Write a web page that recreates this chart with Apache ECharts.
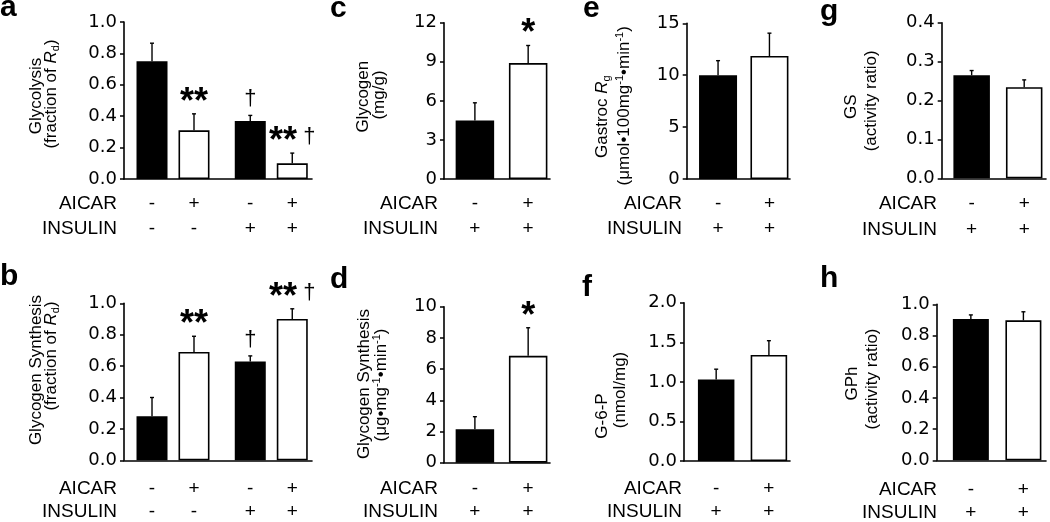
<!DOCTYPE html>
<html><head><meta charset="utf-8">
<script src="https://cdn.jsdelivr.net/npm/echarts@6/dist/echarts.min.js"></script>
<style>html,body{margin:0;padding:0;background:#fff}#c{width:1050px;height:522px}</style>
</head><body><div id="c"></div>
<script>
// ---------------- DATA ----------------
const rowNames = ['AICAR', 'INSULIN'];
const fourAicar = ['-', '+', '-', '+'];
const fourInsulin = ['-', '-', '+', '+'];
const twoAicar = ['-', '+'];
const twoInsulin = ['+', '+'];

const aValues = [0.75, 0.31, 0.37, 0.10];
const aErrors = [0.115, 0.105, 0.035, 0.065];
const aMarks = ['', '**', '†', '**†'];
const aTicks = [0, 0.2, 0.4, 0.6, 0.8, 1.0];

const bValues = [0.28, 0.69, 0.63, 0.90];
const bErrors = [0.12, 0.10, 0.035, 0.065];
const bMarks = ['', '**', '†', '**†'];
const bTicks = [0, 0.2, 0.4, 0.6, 0.8, 1.0];

const cValues = [4.5, 8.9];
const cErrors = [1.35, 1.35];
const cMarks = ['', '*'];
const cTicks = [0, 3, 6, 9, 12];

const dValues = [2.15, 6.85];
const dErrors = [0.8, 1.8];
const dMarks = ['', '*'];
const dTicks = [0, 2, 4, 6, 8, 10];

const eValues = [10.0, 11.85];
const eErrors = [1.4, 2.2];
const eMarks = ['', ''];
const eTicks = [0, 5, 10, 15];

const fValues = [1.03, 1.34];
const fErrors = [0.13, 0.18];
const fMarks = ['', ''];
const fTicks = [0, 0.5, 1.0, 1.5, 2.0];

const gValues = [0.265, 0.234];
const gErrors = [0.012, 0.019];
const gMarks = ['', ''];
const gTicks = [0, 0.1, 0.2, 0.3, 0.4];

const hValues = [0.905, 0.897];
const hErrors = [0.027, 0.055];
const hMarks = ['', ''];
const hTicks = [0, 0.2, 0.4, 0.6, 0.8, 1.0];

const aTitle = ['Glycolysis', '(fraction of {i|R}{sub|d})'];
const bTitle = ['Glycogen Synthesis', '(fraction of {i|R}{sub|d})'];
const cTitle = ['Glycogen', '(mg/g)'];
const dTitle = ['Glycogen Synthesis', '(μg•mg{sup|-1}•min{sup|-1})'];
const eTitle = ['Gastroc {i|R}{sub|g}', '(μmol•100mg{sup|-1}•min{sup|-1})'];
const fTitle = ['G-6-P', '(nmol/mg)'];
const gTitle = ['GS', '(activity ratio)'];
const hTitle = ['GPh', '(activity ratio)'];

// ---------------- LAYOUT / STYLE ----------------
const FONT = '"Liberation Sans", Arial, Helvetica, sans-serif';
const TICKFONT = '"DejaVu Sans", Verdana, sans-serif';
const GROUP_GAP = 0.34;

const panels = [
  {letter:'a', values:aValues, errors:aErrors, marks:aMarks, ticks:aTicks, aicar:fourAicar, insulin:fourInsulin, title:aTitle, dec:1,
   L:{left:124, top:22, width:188, height:157, xMin:-0.667, xMax:3.81, bw:31, labDist:11.75, labLH:25.5, rowX:117, rowY:[203.5,229], letterXY:[0,8], names:[[36,96],[51,94]]}},
  {letter:'b', values:bValues, errors:bErrors, marks:bMarks, ticks:bTicks, aicar:fourAicar, insulin:fourInsulin, title:bTitle, dec:1,
   L:{left:124, top:303.3, width:188, height:157, xMin:-0.667, xMax:3.81, bw:31, labDist:16.5, labLH:23, rowX:117, rowY:[488.5,511.5], letterXY:[0,277], names:[[36.5,370],[51.5,356]]}},
  {letter:'c', values:cValues, errors:cErrors, marks:cMarks, ticks:cTicks, aicar:twoAicar, insulin:twoInsulin, title:cTitle, dec:0,
   L:{left:444, top:22.7, width:106, height:156.3, xMin:-0.58, xMax:1.41, bw:38.5, labDist:11.75, labLH:25.5, rowX:438, rowY:[203.5,229], letterXY:[330,9], names:[[363.3,96.7],[379,95]]}},
  {letter:'d', values:dValues, errors:dErrors, marks:dMarks, ticks:dTicks, aicar:twoAicar, insulin:twoInsulin, title:dTitle, dec:0,
   L:{left:444, top:306.7, width:106, height:156, xMin:-0.58, xMax:1.41, bw:38.5, labDist:14.3, labLH:23, rowX:438, rowY:[488.5,511.5], letterXY:[330,280], names:[[364,384],[381,385]]}},
  {letter:'e', values:eValues, errors:eErrors, marks:eMarks, ticks:eTicks, aicar:twoAicar, insulin:twoInsulin, title:eTitle, dec:0,
   L:{left:686.7, top:23.3, width:103.3, height:155.7, xMin:-0.61, xMax:1.40, bw:38, labDist:11.75, labLH:25.5, rowX:682, rowY:[203.5,229], letterXY:[583,9], names:[[602.5,116.7],[624,105.8]]}},
  {letter:'f', values:fValues, errors:fErrors, marks:fMarks, ticks:fTicks, aicar:twoAicar, insulin:twoInsulin, title:fTitle, dec:1,
   L:{left:684, top:302.7, width:106, height:158.3, xMin:-0.61, xMax:1.40, bw:36.5, labDist:16, labLH:23, rowX:682, rowY:[488.5,511.5], letterXY:[582,288], names:[[602.5,416],[620.5,390]]}},
  {letter:'g', values:gValues, errors:gErrors, marks:gMarks, ticks:gTicks, aicar:twoAicar, insulin:twoInsulin, title:gTitle, dec:1,
   L:{left:941.7, top:22.7, width:104.3, height:155.6, xMin:-0.57, xMax:1.415, bw:36.5, labDist:13, labLH:25.5, rowX:937, rowY:[204,230], letterXY:[820,12], names:[[851.5,106.7],[871.7,100.8]]}},
  {letter:'h', values:hValues, errors:hErrors, marks:hMarks, ticks:hTicks, aicar:twoAicar, insulin:twoInsulin, title:hTitle, dec:1,
   L:{left:936.7, top:304.3, width:109.3, height:156, xMin:-0.65, xMax:1.43, bw:36, labDist:17.5, labLH:23, rowX:937, rowY:[490,512.5], letterXY:[820,279], names:[[852.5,383.5],[872.3,379]]}}
];

const nameRich = {
  i: {fontFamily: FONT, fontSize: 17, fontStyle: 'italic', fill: '#000'},
  sub: {fontFamily: FONT, fontSize: 11, padding: [9, 0, 0, 0], fill: '#000'},
  sup: {fontFamily: FONT, fontSize: 11, padding: [0, 0, 9, 0], fill: '#000'}
};
const markRich = {
  s: {fontFamily: FONT, fontSize: 36, fontWeight: 'bold', fill: '#000'},
  d: {fontFamily: FONT, fontSize: 22, padding: [0, 0, 10, 0], fill: '#000'}
};

function positions(n) {
  const out = [];
  for (let i = 0; i < n; i++) out.push(i + (n === 4 && i >= 2 ? GROUP_GAP : 0));
  return out;
}
function markText(m) {
  if (!m) return '';
  const stars = m.replace('†', '');
  const dag = m.indexOf('†') >= 0;
  return (stars ? '{s|' + stars + '}' : '') + (dag ? '{d|' + (stars ? ' ' : '') + '†}' : '');
}
function txt(x, y, text, extra) {
  const style = Object.assign({text: text, fill: '#000', font: '19px ' + FONT, fontFamily: FONT, fontSize: 19,
    align: 'left', textAlign: 'left', verticalAlign: 'middle', textVerticalAlign: 'middle'}, extra.style || {});
  const el = {type: 'text', x: x, y: y, style: style, silent: true, z: 10};
  if (extra.rotation) el.rotation = extra.rotation;
  return el;
}

const grids = [], xAxes = [], yAxes = [], series = [], graphics = [];

panels.forEach((p, i) => {
  const L = p.L;
  const pos = positions(p.values.length);
  grids.push({left: L.left, top: L.top, width: L.width, height: L.height, containLabel: false, outerBoundsMode: 'none'});
  xAxes.push({type: 'value', gridIndex: i, min: L.xMin, max: L.xMax,
    axisLine: {show: true, onZero: false, lineStyle: {color: '#000', width: 1.6}},
    axisTick: {show: false}, axisLabel: {show: false}, splitLine: {show: false}});
  const t = p.ticks;
  yAxes.push({type: 'value', gridIndex: i, min: t[0], max: t[t.length - 1], interval: t[1] - t[0],
    axisLine: {show: true, onZero: false, lineStyle: {color: '#000', width: 1.6}},
    axisTick: {show: true, length: 4, inside: false, lineStyle: {color: '#000', width: 1.5}},
    axisLabel: {show: true, color: '#000', fontSize: 18, fontFamily: TICKFONT, margin: 7,
      formatter: v => Number(v).toFixed(p.dec)},
    splitLine: {show: false}});
  const aic = p.aicar, ins = p.insulin;
  series.push({
    type: 'bar', xAxisIndex: i, yAxisIndex: i, barWidth: L.bw, silent: true, animation: false,
    data: p.values.map((v, k) => ({value: [pos[k], v], itemStyle: {color: aic[k] === '-' ? '#000' : '#fff'}})),
    itemStyle: {borderColor: '#000', borderWidth: 1.6},
    label: {show: true, position: 'bottom', distance: L.labDist, color: '#000', fontSize: 19, fontFamily: FONT,
      lineHeight: L.labLH, formatter: q => aic[q.dataIndex] + '\n' + ins[q.dataIndex]}
  });
  const marks = p.marks;
  series.push({
    type: 'custom', xAxisIndex: i, yAxisIndex: i, silent: true, animation: false, clip: false, z: 3,
    data: p.values.map((v, k) => [pos[k], v, p.errors[k]]),
    renderItem: (params, api) => {
      const x = api.value(0), v = api.value(1), e = api.value(2);
      const p0 = api.coord([x, v]);
      const p1 = api.coord([x, v + e]);
      const children = [
        {type: 'line', shape: {x1: p0[0], y1: p0[1], x2: p1[0], y2: p1[1]}, style: {stroke: '#000', lineWidth: 1.4}},
        {type: 'line', shape: {x1: p1[0] - 2, y1: p1[1], x2: p1[0] + 2, y2: p1[1]}, style: {stroke: '#000', lineWidth: 1.4}}
      ];
      const m = markText(marks[params.dataIndex]);
      if (m) children.push({type: 'text', x: p1[0], y: p1[1] - 11,
        style: {text: m, rich: markRich, fill: '#000', font: '22px ' + FONT, align: 'center', textAlign: 'center',
          verticalAlign: 'middle', textVerticalAlign: 'middle'}});
      return {type: 'group', children: children};
    }
  });
  graphics.push(txt(L.letterXY[0], L.letterXY[1], p.letter, {style: {font: 'bold 30px ' + FONT, fontSize: 30, fontWeight: 'bold'}}));
  rowNames.forEach((r, k) => graphics.push(txt(L.rowX, L.rowY[k], r, {style: {align: 'right', textAlign: 'right'}})));
  p.title.forEach((line, k) => graphics.push(txt(L.names[k][0], L.names[k][1], line, {rotation: Math.PI / 2,
    style: {font: '17px ' + FONT, fontSize: 17, align: 'center', textAlign: 'center', rich: nameRich}})));
});

const chart = echarts.init(document.getElementById('c'), null, {renderer: 'canvas'});
chart.setOption({
  animation: false,
  backgroundColor: '#fff',
  grid: grids, xAxis: xAxes, yAxis: yAxes, series: series,
  graphic: {elements: graphics}
});
</script></body></html>
